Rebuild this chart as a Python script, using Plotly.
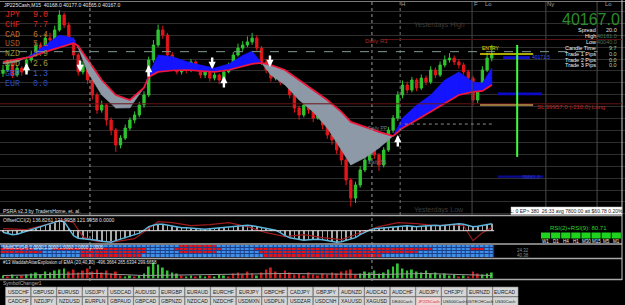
import plotly.graph_objects as go

W, H = 625, 305
def px(x): return x / W
def py(y): return 1 - y / H

# ---------------- data ----------------
first_open = 40090
closes = [40104,40125,40083,40112,40096,40146,40167,40209,40188,40238,
          40230,40272,40335,40293,40230,40167,40096,40125,40062,39999,
          39936,39957,39894,39852,39789,39818,39860,39894,39915,39957,
          39999,40146,40209,40272,40251,40167,40146,40096,40125,40104,
          40138,40112,40083,40096,40070,40083,40062,40096,40125,40167,
          40196,40209,40222,40238,40196,40138,40104,40070,40096,40054,
          40070,39999,39944,39915,39957,39936,39902,39928,39873,39831,
          39810,39768,39726,39642,39566,39621,39684,39726,39768,39747,
          39705,39768,39852,39902,39999,40041,40020,40062,40028,40070,
          40054,40104,40083,40125,40146,40154,40138,40125,40096,40070,
          39978,40028,40104,40154,40167]
highs = [40125,40140,40135,40125,40120,40160,40185,40225,40220,40255,
         40260,40290,40355,40345,40305,40240,40175,40140,40130,40070,
         40010,39975,39965,39905,39860,39830,39875,39905,39930,39970,
         40015,40160,40230,40295,40290,40260,40180,40155,40140,40135,
         40150,40145,40120,40110,40105,40095,40090,40105,40135,40180,
         40215,40225,40245,40260,40250,40205,40150,40115,40110,40105,
         40085,40080,40005,39955,39970,39965,39945,39940,39935,39885,
         39840,39820,39775,39735,39650,39635,39700,39740,39785,39780,
         39755,39780,39865,39915,40015,40060,40055,40075,40070,40085,
         40080,40120,40115,40140,40165,40175,40165,40150,40135,40105,
         40080,40040,40120,40175,40210]
lows = [40075,40095,40070,40075,40080,40090,40135,40160,40175,40180,
        40215,40220,40265,40280,40215,40150,40080,40085,40045,39980,
        39920,39925,39870,39830,39760,39775,39810,39850,39880,39905,
        39945,39990,40135,40200,40235,40150,40130,40085,40085,40090,
        40095,40100,40070,40070,40055,40060,40045,40055,40090,40115,
        40160,40185,40200,40210,40185,40125,40090,40055,40060,40040,
        40045,39985,39925,39895,39905,39920,39885,39895,39855,39815,
        39790,39750,39705,39620,39530,39545,39610,39675,39715,39730,
        39680,39695,39760,39840,39890,39985,40005,40010,40015,40020,
        40040,40045,40070,40075,40115,40135,40125,40110,40085,40055,
        39955,39965,40020,40095,40140]

ma_idx = [0,3,6,9,12,15,16,18,21,24,27,30,31,33,36,39,42,45,48,51,53,55,57,60,63,66,69,72,74,77,80,83,85,88,91,94,97,100,102,104]
ma_slow = [40138,40150,40159,40180,40200,40217,40205,40146,40062,39999,39978,40030,40075,40096,40102,40104,40100,40096,40104,40121,
           40130,40134,40125,40104,40062,40020,39978,39928,39886,39865,39844,39827,39860,39894,39928,39965,39999,40012,40016,40041]
ma_fast = [40130,40138,40167,40209,40251,40238,40196,40096,39999,39944,39945,40028,40087,40167,40160,40140,40125,40112,40129,40165,
           40184,40133,40083,40041,39978,39928,39860,39768,39705,39735,39776,39827,39902,39957,39999,40062,40096,40054,40049,40112]

up_arrow_idx = [5, 31, 47, 84]
up_arrow_price = [40133, 40125, 40079, 39831]
down_arrow_idx = [16.4, 44.5, 56.8]
down_arrow_price = [40096, 40108, 40117]

osc_cci = [-1.5,-3,-4,-3.5,-2,-0.5,1,2.5,4,5,
           6.5,8,10,9,2,-5,-7.5,-8,-8,-8.5,
           -9.5,-10.5,-11,-11.5,-10,-8.5,-7.5,-6,-4.5,-2.5,
           0.5,4,5.5,6.5,6.5,5.5,4.5,3.5,3,3,
           2.5,2,1.5,1.5,2,2.5,3,3.5,3.5,4.5,
           5,5.5,5.5,5,4,3.5,2,1,0.5,-2,
           -5,-7,-8,-9,-9.5,-9,-8.5,-8.5,-9,-10,
           -11,-11.5,-11,-9.5,-8,-7,-4,-1.5,0.5,2,
           2.5,3,3.5,3.5,4,4.5,5,4.5,4,4.5,
           5,5,5.5,5,5.5,6,6.5,7,6.5,5.5,
           4,4.5,5.5,6,7]
osc_red_idx = [0,5,10,13,15,17,20,24,28,31,33,36,40,44,48,52,56,60,64,68,72,76,80,84,88,92,96,98,100,102,104]
osc_red_val = [2,1,7,11,8,-6,-11,-11,-8,2,9,8,5,6,8,4,-2,-6,-4,-7,-9,-2,4,8,7,5,6,5,-10,-2,3]

heat_runs = {
    3: [('B',38),('R',8),('B',59)],
    2: [('R',7),('B',4),('R',20),('B',6),('R',10),('B',7),('R',38),('B',8),('R',3),('B',2)],
    1: [('R',9),('B',8),('R',14),('B',7),('R',8),('B',9),('R',34),('B',16)],
    0: [('B',17),('R',13),('B',26),('R',25),('B',24)],
}

hist_vals = [3,2,4,2,3,4,5,6,4,7,
             6,8,9,10,7,9,6,8,10,7,
             9,6,8,5,7,3,2,3,2,3,
             5,12,16,14,11,8,6,5,3,2,
             3,2,3,2,3,2,4,3,2,5,
             6,4,7,5,3,6,9,11,7,5,
             8,6,4,5,3,6,4,3,5,4,
             6,5,7,8,9,4,5,7,6,8,
             5,6,9,12,15,10,8,9,7,6,
             8,5,6,4,5,3,4,2,3,2,
             7,5,4,5,6]
hist_dirs = ("grggrggggg" "ggggrrrrrr" "rrrrrrggrg" "ggggggggrg" "grggrgggrr"
             "rrrrgrrrrr" "rrrrrrrrrr" "rrrrrrgggg" "gggggggggg" "gggggggrgr" "rrggg")
sig_idx = [0,10,20,30,40,50,60,70,80,90,100,104]
sig_val = [3,4,5,3,3.5,4,5,4.5,4,5,3.5,3]

currencies = ["JPY","CHF","CAD","USD","NZD","AUD","GBP","EUR"]
strength = [9.0,7.7,6.4,5.1,3.9,2.6,1.3,0.0]
currency_colors = ["#e8271e","#d0281e","#c0702a","#a85a2c","#8a8f3a","#a89a40","#3a5fd0","#2a4cc0"]

info_labels = ["Spread","High","Low","Candle Time","Trade 1 Pips","Trade 2 Pips","Trade 3 Pips"]
info_values = ["20.0","40181.0","40040.0","9:7","0.0","0.0","0.0"]
info_colors = ["#e0e0e0","#4f6f4f","#4f6f4f","#8ad28a","#b0d8a8","#b0d8a8","#b0d8a8"]
last_price = "40167.0"

tf_labels = ["W1","D1","H4","H1","M30","M15","M5","M1"]
rsi_value = 80.71

buttons_row1 = ["USDCHF","GBPUSD","EURUSD","USDJPY","USDCAD","AUDUSD","EURGBP","EURAUD","EURCHF","EURJPY",
                "GBPCHF","CADJPY","GBPJPY","AUDNZD","AUDCAD","AUDCHF","AUDJPY","CHFJPY","EURNZD","EURCAD"]
buttons_row2 = ["CADCHF","NZDJPY","NZDUSD","EURPLN","GBPAUD","GBPCAD","GBPNZD","NZDCAD","NZDCHF","USDMXN",
                "USDPLN","USDZAR","USDCNH","XAUUSD","XAGUSD","DE40Cash","JP225Cash","US500Cash","USTECHCash","US30Cash"]

entry_price = 40171.5
sl_price = 39957.0
day_high = 40181.0

# ---------------- figure ----------------
idx = list(range(len(closes)))
opens = [first_open] + closes[:-1]
fig = go.Figure()

# MA band polygons
bx, by, gx, gy = [], [], [], []
def add_poly(pts, d):
    tx, ty = (bx, by) if d > 0 else (gx, gy)
    for (a, b) in pts + [pts[0]]:
        tx.append(a); ty.append(b)
    tx.append(None); ty.append(None)
for k in range(len(ma_idx) - 1):
    x0, x1 = ma_idx[k], ma_idx[k+1]
    f0, f1 = ma_fast[k], ma_fast[k+1]
    s0, s1 = ma_slow[k], ma_slow[k+1]
    d0, d1 = f0 - s0, f1 - s1
    if d0 * d1 < 0:
        t = d0 / (d0 - d1)
        xc = x0 + t * (x1 - x0); yc = s0 + t * (s1 - s0)
        add_poly([(x0, f0), (xc, yc), (x0, s0)], d0)
        add_poly([(xc, yc), (x1, f1), (x1, s1)], d1)
    else:
        add_poly([(x0, f0), (x1, f1), (x1, s1), (x0, s0)], d0 + d1)
fig.add_trace(go.Scatter(x=gx, y=gy, mode='lines', fill='toself', fillcolor='#8e99a8',
                         line=dict(color='#8e99a8', width=0.6), hoverinfo='skip', yaxis='y'))
fig.add_trace(go.Scatter(x=bx, y=by, mode='lines', fill='toself', fillcolor='#1414ff',
                         line=dict(color='#1414ff', width=0.6), hoverinfo='skip', yaxis='y'))

fig.add_trace(go.Candlestick(x=idx, open=opens, high=highs, low=lows, close=closes,
                             increasing=dict(line=dict(color='#2fc42f', width=1), fillcolor='#2fc42f'),
                             decreasing=dict(line=dict(color='#e3161b', width=1), fillcolor='#e3161b'),
                             whiskerwidth=0, hoverinfo='skip', xaxis='x', yaxis='y'))
fig.add_trace(go.Scatter(x=ma_idx, y=ma_slow, mode='lines', line=dict(color='#f0163c', width=1.7),
                         hoverinfo='skip', yaxis='y'))

# oscillator panel
fig.add_trace(go.Bar(x=idx, y=osc_cci, width=0.13, marker=dict(color='#a8a8a8', line=dict(width=0)),
                     hoverinfo='skip', yaxis='y2'))
fig.add_trace(go.Scatter(x=osc_red_idx, y=osc_red_val, mode='lines', line=dict(color='#9e1c1c', width=1.2),
                         hoverinfo='skip', yaxis='y2'))
fig.add_trace(go.Scatter(x=idx, y=osc_cci, mode='lines', line=dict(color='#5cb6dc', width=1.4),
                         hoverinfo='skip', yaxis='y2'))

# heatmap panel
z = []
for r in [0, 1, 2, 3]:
    row = []
    for c, n in heat_runs[r]:
        row += [1 if c == 'R' else 0] * n
    z.append(row)
fig.add_trace(go.Heatmap(x=idx, y=[0, 1, 2, 3], z=z, colorscale=[[0, '#3f8fe6'], [1, '#e3141a']],
                         zmin=0, zmax=1, showscale=False, xgap=1, ygap=1, hoverinfo='skip', yaxis='y3'))

# histogram panel
fig.add_trace(go.Bar(x=idx, y=hist_vals, width=0.4,
                     marker=dict(color=['#36c236' if d == 'g' else '#d41a1a' for d in hist_dirs], line=dict(width=0)),
                     hoverinfo='skip', yaxis='y4'))
fig.add_trace(go.Scatter(x=sig_idx, y=sig_val, mode='lines', line=dict(color='#9a9a9a', width=1),
                         hoverinfo='skip', yaxis='y4'))

shapes = []
ann = []
def hline_paper(y, color, width=1, x0=0, x1=622, dash=None):
    shapes.append(dict(type='line', xref='paper', yref='paper', x0=px(x0), x1=px(x1), y0=py(y), y1=py(y),
                       line=dict(color=color, width=width, dash=dash)))
def txt(x, y, s, color, size, anchor='left', family='Liberation Sans'):
    ann.append(dict(x=px(x), y=py(y), xref='paper', yref='paper', text=s, showarrow=False,
                    font=dict(color=color, size=size, family=family), xanchor=anchor, yanchor='middle', borderpad=0))

shapes.append(dict(type='rect', xref='x', yref='y3', x0=-0.5, x1=len(idx) - 0.5, y0=-0.5, y1=3.5,
                   fillcolor='#1c3f8c', line=dict(width=0), layer='below'))

hline_paper(1.5, '#7a7a7a', 1, 0, 625)
for yy in [215.5, 244, 258.5, 279.5]:
    hline_paper(yy, '#a8a8a8', 1.5)
shapes.append(dict(type='line', xref='paper', yref='paper', x0=px(622), x1=px(622), y0=py(0), y1=py(280),
                   line=dict(color='#c8c8c8', width=1)))
for xi, ybot in [(18.5, 283), (78.5, 283)]:
    shapes.append(dict(type='line', xref='x', yref='paper', x0=xi, x1=xi, y0=py(2), y1=py(ybot),
                       line=dict(color='#9a9a9a', width=1, dash='dot')))
shapes.append(dict(type='line', xref='x', yref='paper', x0=84.5, x1=84.5, y0=py(2), y1=py(215),
                   line=dict(color='#7a7a7a', width=1, dash='dot')))
for xi in [99.8, 115.5, 126.4]:
    shapes.append(dict(type='line', xref='x', yref='paper', x0=xi, x1=xi, y0=py(2), y1=py(215),
                       line=dict(color='#4a4a4a', width=1)))
shapes.append(dict(type='line', xref='x', yref='y2', x0=-0.64, x1=len(idx) - 0.5, y0=0, y1=0,
                   line=dict(color='#e0e0e0', width=1)))

def hline_price(p, i0, i1, color, width=1, dash=None):
    shapes.append(dict(type='line', xref='x', yref='y', x0=i0, x1=i1, y0=p, y1=p,
                       line=dict(color=color, width=width, dash=dash)))
hline_price(day_high, -0.64, 126.5, '#7f9c95', 1, 'dash')
hline_price(39962, -0.64, 131.7, '#6a1414', 1)
hline_price(40232, 81, 131.7, '#5a1515', 1)
hline_price(39877, 85.5, 104, '#8a8a8a', 1, 'dot')
hline_price(entry_price, 101.5, 112.8, '#e8e000', 1.5)
hline_price(sl_price, 101.5, 112.8, '#c89a50', 1.5)
shapes.append(dict(type='rect', xref='x', yref='y', x0=106.4, x1=112.1, y0=40150, y1=40162,
                   fillcolor='#1010d0', line=dict(width=0)))
shapes.append(dict(type='rect', xref='x', yref='y', x0=105.3, x1=114.7, y0=39998, y1=40010,
                   fillcolor='#0a0ac8', line=dict(width=0)))
shapes.append(dict(type='rect', xref='x', yref='y', x0=105.3, x1=115.0, y0=39651, y1=39661,
                   fillcolor='#0a0a90', line=dict(width=0)))
shapes.append(dict(type='line', xref='x', yref='y', x0=109.4, x1=109.4, y0=40209, y1=39739,
                   line=dict(color='#3cff3c', width=2)))

for i, p in zip(up_arrow_idx, up_arrow_price):
    ann.append(dict(x=i, y=p, xref='x', yref='y', ax=0, ay=13, text='', showarrow=True,
                    arrowhead=2, arrowsize=0.6, arrowwidth=2.4, arrowcolor='white'))
for i, p in zip(down_arrow_idx, down_arrow_price):
    ann.append(dict(x=i, y=p, xref='x', yref='y', ax=0, ay=-13, text='', showarrow=True,
                    arrowhead=2, arrowsize=0.6, arrowwidth=2.4, arrowcolor='white'))

txt(3, 4.5, "JP225Cash,M15  40168.0 40177.0 40165.0 40167.0", '#e8e8e8', 5)
for k, (c, v, col) in enumerate(zip(currencies, strength, currency_colors)):
    yy = 14.5 + 9.8 * k
    txt(4, yy, c, col, 8.3, family='Liberation Mono')
    txt(32, yy, f"{v:.1f}", col, 8.3, family='Liberation Mono')
txt(400, 4, "H", '#a0a0a0', 6)
txt(473, 4, "F", '#a0a0a0', 6)
txt(484, 4, "Lo", '#a0a0a0', 6)
txt(546, 4, "Ny", '#a0a0a0', 6)
txt(604, 4, "Lo", '#a0a0a0', 6)
txt(413, 25, "Yesterdays High", '#3c3c3c', 7)
txt(413, 210, "Yesterdays Low", '#3c3c3c', 7)
txt(364, 41, "Daily R1", '#b02a2a', 6)
txt(367, 128, "Daily PP", '#7a7a7a', 5)
txt(367, 162, "Daily S1", '#7a7a7a', 5)
txt(481, 48, "ENTRY", '#e8e000', 5)
txt(531, 57, f"{entry_price:.1f}", '#3a50ff', 5)
txt(536, 107, f"SL {sl_price:.1f} (-210.0) Long", '#c02828', 6)
txt(521, 177, "39661.0", '#2a3ad0', 5)
txt(621, 19, last_price, '#2b8c2b', 16, anchor='right')
for k, (lab, val, vc) in enumerate(zip(info_labels, info_values, info_colors)):
    yy = 30.5 + 5.8 * k
    txt(597, yy, lab, '#f0f0f0', 5.5, anchor='right')
    txt(618, yy, val, vc, 5.5, anchor='right')
shapes.append(dict(type='rect', xref='paper', yref='paper', x0=px(511), x1=px(622), y0=py(214.5), y1=py(207),
                   fillcolor='#ffffff', line=dict(color='#c0c0c0', width=0.5)))
txt(566.5, 210.8, "L: 0 EP> 380  26:33 avg 7800:00 att $60.78 0.20%", '#202020', 5, anchor='center')
txt(2, 211, "PSRA v2.3 by TradersHome, et. al.", '#e0e0e0', 5)

txt(2, 219.5, "OffsetCCI(2) 136.8261 121.9958 121.9958 0.0000", '#e0e0e0', 5)
txt(578, 228, f"RSI(2)+RSI(9): {rsi_value:.2f}", '#2ed22e', 6, anchor='center')
for k, lab in enumerate(tf_labels):
    x0 = 541 + k * 10.1
    shapes.append(dict(type='rect', xref='paper', yref='paper', x0=px(x0), x1=px(x0 + 9.2),
                       y0=py(238.5), y1=py(232.5), fillcolor='#1ed21e', line=dict(width=0)))
    txt(x0 + 4.6, 241.5, lab, '#f0f0f0', 4.5, anchor='center')
txt(2, 247, "MultiCCI(14) 1.0000 1.0000 1.0000 1.0000 1.0000", '#f0f0f0', 4.5)
txt(516, 250, "24.32", '#8a8a8a', 4.5)
txt(516, 255, "40.38", '#8a8a8a', 4.5)
txt(2, 262.5, "#13 WaddahAttarExplosion of EMA (20,40,20) -496.3664 265.6334 299.6658", '#e0e0e0', 4.5)
txt(2, 283, "SymbolChanger1", '#b0b0b0', 5)

for row, labels, y0, y1 in [(0, buttons_row1, 287, 296.5), (1, buttons_row2, 297, 306)]:
    for k, lab in enumerate(labels):
        x0 = 5.5 + k * 25.65
        special = lab == "JP225Cash"
        shapes.append(dict(type='rect', xref='paper', yref='paper', x0=px(x0), x1=px(x0 + 25.2),
                           y0=py(y1), y1=py(y0), fillcolor='#f2d4d4' if special else '#d6d6d6',
                           line=dict(color='#8c8c8c', width=0.6)))
        fs = 5 if len(lab) <= 7 else 4.2
        txt(x0 + 12.6, (y0 + min(y1, 305)) / 2, lab, '#d03030' if special else '#1a1a1a', fs, anchor='center')

axis_off = dict(showgrid=False, zeroline=False, showticklabels=False, ticks='', showline=False, fixedrange=True)
fig.update_layout(
    width=W, height=H, margin=dict(l=0, r=0, t=0, b=0),
    paper_bgcolor='black', plot_bgcolor='black', showlegend=False, barmode='overlay', hovermode=False,
    xaxis=dict(range=[-0.64, 132.34], rangeslider=dict(visible=False), **axis_off),
    yaxis=dict(domain=[1 - 215 / H, 1], range=[39495, 40398], anchor='x', showgrid=True, gridcolor='#2e2e2e',
               gridwidth=1, dtick=50, tick0=0, zeroline=False, showticklabels=False, ticks='', fixedrange=True),
    yaxis2=dict(domain=[1 - 243 / H, 1 - 217 / H], range=[-12.3, 13.7], anchor='x', **axis_off),
    yaxis3=dict(domain=[1 - 257.5 / H, 1 - 245 / H], range=[-0.5, 3.5], anchor='x', **axis_off),
    yaxis4=dict(domain=[1 - 278.5 / H, 1 - 260 / H], range=[0, 18.5], anchor='x', **axis_off),
    shapes=shapes, annotations=ann,
)
fig.write_html("out.html")
